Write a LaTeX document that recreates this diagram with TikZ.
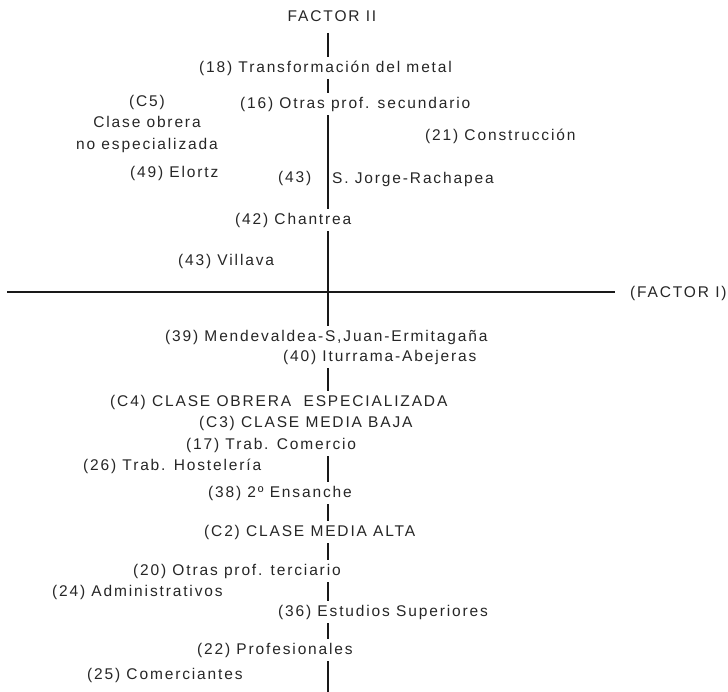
\documentclass[tikz,border=0pt]{standalone}
\usepackage{fontspec}
\setmainfont[LetterSpace=12]{Liberation Sans}
\begin{document}
\begin{tikzpicture}[x=1pt,y=-1pt,
  lbl/.style={anchor=mid west,inner xsep=0pt,inner ysep=4pt,text=black!85,
    font=\fontsize{15.5}{21.5}\selectfont},
  lblw/.style={lbl,fill=white},
  axis/.style={line width=2.4pt,black!90}]
\useasboundingbox (0,0) rectangle (728,692);
\coordinate (vtop) at (328,33);
\coordinate (vbot) at (328,692);
\coordinate (hl) at (7,292);
\coordinate (hr) at (615,292);
\draw[axis] (vtop) -- (vbot);
\draw[axis] (hl) -- (hr);
\node[lbl,anchor=mid] (f2) at (332,18.5) {FACTOR II};
\node[lbl] (f1) at (630,294.5) {(FACTOR I)};
\node[lblw] (n18) at (199,69.5) {(18) Transformación del metal};
\node[lblw] (n16) at (240,105.5) {(16) Otras prof. secundario};
\node[lbl,anchor=north,align=center] (c5) at (147,91) {(C5)\\Clase obrera\\no especializada};
\node[lbl] (n21) at (425,137.5) {(21) Construcción};
\node[lbl] (n49) at (130,174.5) {(49) Elortz};
\node[lbl] (n43a) at (278,179.5) {(43)};
\node[lbl] (n43b) at (332,180.5) {S. Jorge-Rachapea};
\node[lblw] (n42) at (235,221.5) {(42) Chantrea};
\node[lbl] (n43v) at (178,262.5) {(43) Villava};
\node[lblw] (n39) at (165,338.5) {(39) Mendevaldea-S,Juan-Ermitagaña};
\node[lblw] (n40) at (283,358.5) {(40) Iturrama-Abejeras};
\node[lblw] (c4) at (110,403.5) {(C4) CLASE OBRERA\ \ ESPECIALIZADA};
\node[lblw] (c3) at (199,424.5) {(C3) CLASE MEDIA BAJA};
\node[lblw] (n17) at (186,446.5) {(17) Trab. Comercio};
\node[lbl] (n26) at (83,467.5) {(26) Trab. Hostelería};
\node[lblw] (n38) at (208,494.5) {(38) 2º Ensanche};
\node[lblw] (c2) at (204,533.5) {(C2) CLASE MEDIA ALTA};
\node[lblw] (n20) at (133,572.5) {(20) Otras prof. terciario};
\node[lbl] (n24) at (52,593.5) {(24) Administrativos};
\node[lblw] (n36) at (278,613.5) {(36) Estudios Superiores};
\node[lblw] (n22) at (197,651.5) {(22) Profesionales};
\node[lbl] (n25) at (87,676.5) {(25) Comerciantes};
\end{tikzpicture}
\end{document}
